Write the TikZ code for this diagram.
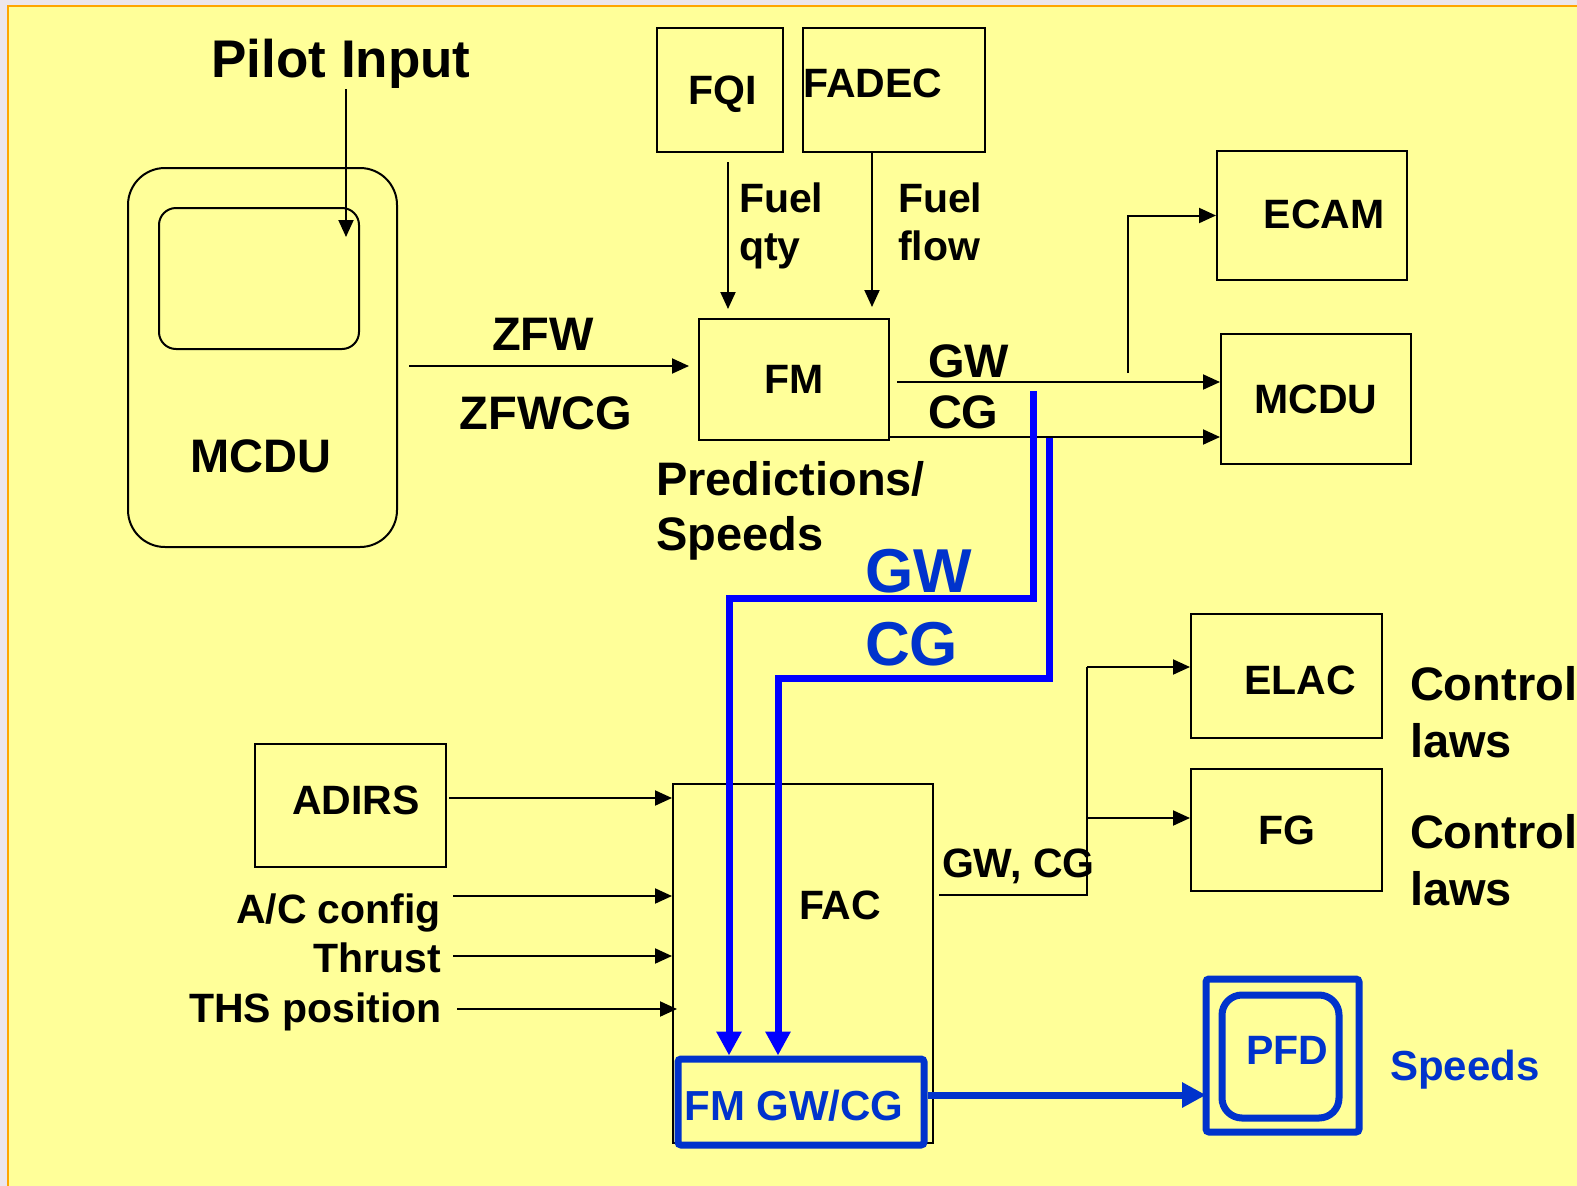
\documentclass[tikz,border=0pt]{standalone}
\usepackage{fontspec}
\setmainfont{Liberation Sans}
\usepackage{tikz}
\usetikzlibrary{arrows.meta}
\usepackage{xcolor}
\definecolor{slideyellow}{HTML}{FFFF99}
\definecolor{slideorange}{HTML}{FFA500}
\definecolor{slideback}{HTML}{ECE6EC}
\definecolor{fmblue}{HTML}{0033CC}
\definecolor{wireblue}{HTML}{0000FF}

\begin{document}
\begin{tikzpicture}[x=1pt, y=-1pt, line width=2pt,
    every node/.style={font=\bfseries\fontsize{41}{48}\selectfont, inner sep=0pt},
    box/.style={draw, line width=2pt},
    bigtext/.style={font=\bfseries\fontsize{47}{55}\selectfont},
    arr/.style={-{Triangle[length=17pt, width=15pt]}},
    bluebox/.style={draw=fmblue, line width=7pt, rounded corners=3pt, text=fmblue},
    bluearr/.style={wireblue, line width=7pt, -{Triangle[length=24pt, width=24pt]}}]
    % Slide
    \useasboundingbox (0,0) rectangle (1577,1186);
    \fill[slideback] (0,0) rectangle (1577,1186);
    \filldraw[fill=slideyellow, draw=slideorange, line width=1.5pt] (8,6) rectangle (1600,1210);
    % Pilot input and MCDU
    \node[font=\bfseries\fontsize{53}{60}\selectfont, anchor=base] (pilot) at (341,77) {Pilot Input};
    \node[box, rounded corners=37pt, minimum width=269pt, minimum height=379pt] (mcdu) at (262.5,357.5) {};
    \node[box, rounded corners=17pt, minimum width=200pt, minimum height=141pt] (screen) at (259,278.5) {};
    \node[bigtext] (mcdutext) at (261,456) {MCDU};
    \coordinate (pilotin) at (346,237);
    \draw[arr] (pilot.south -| pilotin) -- (pilotin);
    % FM and its inputs
    \node[box, minimum width=190pt, minimum height=121pt] (fm) at (794,379.5) {FM};
    \node[box, minimum width=126pt, minimum height=124pt] (fqi) at (720,90) {};
    \node[anchor=base] (fqitext) at (723,104) {FQI};
    \node[box, minimum width=182pt, minimum height=124pt] (fadec) at (894,90) {};
    \node (fadectext) at (873,83) {FADEC};
    \draw[arr, shorten <=9pt, shorten >=9pt] ([xshift=8pt]fqi.south) -- ([xshift=8pt]fqi.south |- fm.north);
    \draw[arr, shorten >=11pt] ([xshift=-22pt]fadec.south) -- ([xshift=-22pt]fadec.south |- fm.north);
    \node[anchor=base west, align=left] (fuelqty) at (738,260) {Fuel\\qty};
    \node[anchor=base west, align=left] (fuelflow) at (897,260) {Fuel\\flow};
    \coordinate (zfwin) at (409,366);
    \draw[arr, shorten >=9pt] (zfwin) -- (zfwin -| fm.west);
    \node[bigtext, anchor=base] (zfw) at (543,350) {ZFW};
    \node[bigtext, anchor=base] (zfwcg) at (546,429) {ZFWCG};
    \node[bigtext, anchor=base west, align=left] (pred) at (655,550) {Predictions/\\Speeds};
    % FM outputs
    \node[box, minimum width=190pt, minimum height=129pt] (ecam) at (1312,215.5) {};
    \node (ecamtext) at (1324,214) {ECAM};
    \node[box, minimum width=190pt, minimum height=130pt] (mcdutwo) at (1316,399) {MCDU};
    \coordinate (gwout) at (889,382);
    \coordinate (cgout) at (889,437);
    \coordinate (ecamtap) at (1128,373);
    \draw[arr, shorten <=8pt] (gwout) -- (gwout -| mcdutwo.west);
    \draw[arr] (cgout) -- (cgout -| mcdutwo.west);
    \draw[arr] (ecamtap) |- (ecam.west);
    \node[bigtext, anchor=base west] (gw) at (927,377) {GW};
    \node[bigtext, anchor=base west] (cg) at (927,428) {CG};
    % FAC and its inputs
    \node[box, minimum width=191pt, minimum height=123pt] (adirs) at (350.5,805.5) {};
    \node (adirstext) at (356,800) {ADIRS};
    \node[box, minimum width=260pt, minimum height=359pt] (fac) at (803,963.5) {};
    \node (factext) at (840,905) {FAC};
    \node[anchor=base east] (acconfig) at (442,923) {A/C config};
    \node[anchor=base east] (thrust) at (442,972) {Thrust};
    \node[anchor=base east] (ths) at (443,1022) {THS position};
    \coordinate (adirsout) at (446,798);
    \coordinate (acin) at (453,896);
    \coordinate (thrustin) at (453,956);
    \coordinate (thsin) at (457,1009);
    \draw[arr, shorten <=3pt] (adirsout) -- (adirsout -| fac.west);
    \draw[arr] (acin) -- (acin -| fac.west);
    \draw[arr] (thrustin) -- (thrustin -| fac.west);
    \draw[arr, shorten >=-5pt] (thsin) -- (thsin -| fac.west);
    % FAC outputs
    \node[box, minimum width=191pt, minimum height=124pt] (elac) at (1286.5,676) {};
    \node (elactext) at (1300,680) {ELAC};
    \node[box, minimum width=191pt, minimum height=122pt] (fg) at (1286.5,830) {FG};
    \node[anchor=base west, align=left, font=\bfseries\fontsize{47}{57}\selectfont] (elaclaws) at (1409,757) {Control\\laws};
    \node[anchor=base west, align=left, font=\bfseries\fontsize{47}{57}\selectfont] (fglaws) at (1409,905) {Control\\laws};
    \coordinate (split) at (1087,895);
    \coordinate (elacin) at (1087,667);
    \coordinate (fgin) at (1087,818);
    \draw[shorten <=5pt] (fac.east |- split) -- (split) -- (elacin);
    \draw[arr] (elacin) -- (elacin -| elac.west);
    \draw[arr] (fgin) -- (fgin -| fg.west);
    \node[anchor=base west] (gwcg) at (941,877) {GW, CG};
    % FM GW/CG to PFD
    \node[bluebox, minimum width=246pt, minimum height=86pt] (fmgwcg) at (801,1102) {};
    \node[text=fmblue, font=\bfseries\fontsize{42}{48}\selectfont] (fmgwcgtext) at (794,1106) {FM GW/CG};
    \node[bluebox, minimum width=153pt, minimum height=153pt] (pfdframe) at (1282.5,1055.5) {};
    \node[bluebox, rounded corners=20pt, minimum width=117pt, minimum height=123pt] (pfd) at (1280.5,1056.5) {};
    \node[text=fmblue] (pfdtext) at (1287,1050) {PFD};
    \node[text=fmblue, font=\bfseries\fontsize{42}{48}\selectfont, anchor=base] (speeds) at (1465,1080) {Speeds};
    \coordinate (pfdin) at (1206,1095);
    \draw[bluearr, fmblue] (fmgwcg.east |- pfdin) -- (pfdin);
    % GW/CG from FM to FAC
    \node[text=fmblue, font=\bfseries\fontsize{62}{70}\selectfont, anchor=base west] (bluegw) at (864,592) {GW};
    \node[text=fmblue, font=\bfseries\fontsize{62}{70}\selectfont, anchor=base west] (bluecg) at (864,665) {CG};
    \coordinate (gwtap) at (1033,391);
    \coordinate (gwdrop) at (729,598);
    \coordinate (cgtap) at (1049,438);
    \coordinate (cgdrop) at (778,678);
    \draw[bluearr] (gwtap) |- (gwdrop) -- (gwdrop |- fmgwcg.north);
    \draw[bluearr] (cgtap) |- (cgdrop) -- (cgdrop |- fmgwcg.north);
\end{tikzpicture}
\end{document}
